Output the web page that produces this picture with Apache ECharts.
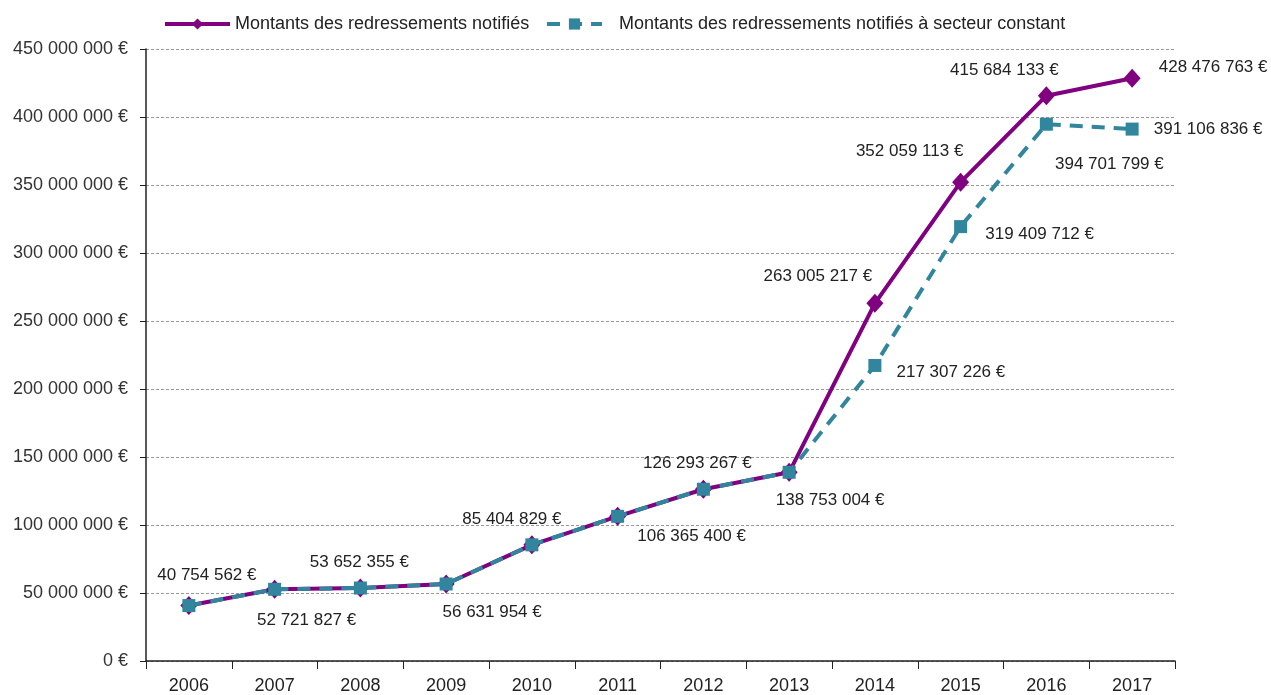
<!DOCTYPE html>
<html>
<head>
<meta charset="utf-8">
<script src="https://cdn.jsdelivr.net/npm/echarts@6/dist/echarts.min.js"></script>
<style>
  html, body { margin: 0; padding: 0; background: #fff; }
  #chart { width: 1271px; height: 695px; }
</style>
</head>
<body>
<div id="chart"></div>
<script>
// données
const years = ['2006', '2007', '2008', '2009', '2010', '2011', '2012', '2013', '2014', '2015', '2016', '2017'];
const montants = [40754562, 52721827, 53652355, 56631954, 85404829, 106365400, 126293267, 138753004, 263005217, 352059113, 415684133, 428476763];
const montantsConstant = [40754562, 52721827, 53652355, 56631954, 85404829, 106365400, 126293267, 138753004, 217307226, 319409712, 394701799, 391106836];
const serieNames = ['Montants des redressements notifiés', 'Montants des redressements notifiés à secteur constant'];

// décalage des étiquettes (px) par rapport au point
const offsetsMontants = [[18, -30], [32, 31], [-1, -26], [46, 28], [-20, -26], [74, 20], [-6, -26], [41, 28], [-57, -27], [-51, -31], [-42, -25], [81, -11]];
const offsetsConstant = [null, null, null, null, null, null, null, null, [76, 7], [79, 8], [63, 40], [76, 0]];

const purple = '#800080';
const teal = '#31859C';
const font = '"Liberation Sans", Arial, sans-serif';

function euro(v) {
  return String(v).replace(/\B(?=(\d{3})+(?!\d))/g, ' ') + ' €';
}

function buildData(values, offsets) {
  return values.map((v, i) => {
    const off = offsets[i];
    return {
      value: v,
      label: off ? {
        show: true,
        position: 'inside',
        offset: off,
        formatter: p => euro(p.value),
        color: '#222',
        fontSize: 17,
        fontFamily: font
      } : { show: false }
    };
  });
}

const chart = echarts.init(document.getElementById('chart'));
const option = {
  animation: false,
  legend: [
    {
      left: 163,
      top: 15,
      padding: 0,
      itemWidth: 65,
      itemHeight: 14,
      data: [serieNames[0]],
      lineStyle: { width: 4 },
      textStyle: { fontSize: 18, fontFamily: font, color: '#222' }
    },
    {
      left: 545,
      top: 15,
      padding: 0,
      itemWidth: 55,
      itemHeight: 14,
      data: [serieNames[1]],
      lineStyle: { width: 4 },
      textStyle: { fontSize: 18, fontFamily: font, color: '#222', padding: [0, 0, 0, 12] }
    }
  ],
  grid: {
    left: 146,
    right: 96,
    top: 49,
    bottom: 33
  },
  xAxis: {
    type: 'category',
    data: years,
    boundaryGap: true,
    axisLine: { lineStyle: { color: '#222', width: 1.5 } },
    axisTick: { show: true, length: 8, lineStyle: { color: '#222' } },
    axisLabel: { fontSize: 18, fontFamily: font, color: '#222', margin: 16 }
  },
  yAxis: {
    type: 'value',
    min: 0,
    max: 450000000,
    interval: 50000000,
    axisLine: { show: true, lineStyle: { color: '#222', width: 1.5 } },
    axisTick: { show: true, length: 6, lineStyle: { color: '#222' } },
    axisLabel: {
      fontSize: 18,
      fontFamily: font,
      color: '#333',
      margin: 18,
      formatter: v => euro(v)
    },
    splitLine: { lineStyle: { color: '#999', type: [3, 2], width: 1 } }
  },
  series: [
    {
      name: serieNames[0],
      type: 'line',
      z: 2,
      data: buildData(montants, offsetsMontants),
      symbol: 'diamond',
      symbolSize: [17, 19],
      itemStyle: { color: purple },
      lineStyle: { color: purple, width: 4 }
    },
    {
      name: serieNames[1],
      type: 'line',
      z: 3,
      data: buildData(montantsConstant, offsetsConstant),
      symbol: 'rect',
      symbolSize: 13,
      itemStyle: { color: teal },
      lineStyle: { color: teal, width: 4, type: [13, 9] }
    }
  ]
};
chart.setOption(option);
</script>
</body>
</html>
